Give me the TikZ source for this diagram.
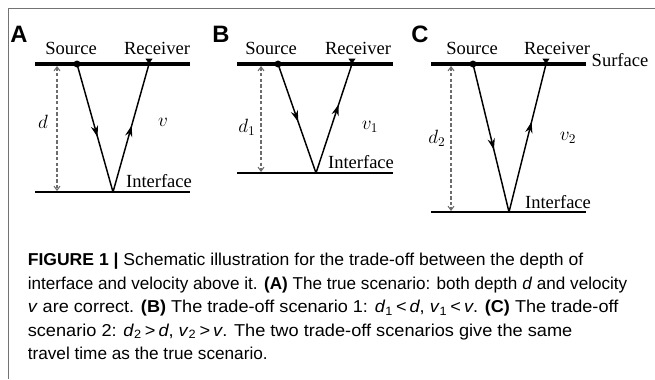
\documentclass[tikz,border=0pt]{standalone}
\usepackage{fontspec}
\usepackage{graphicx}
\setmainfont{Liberation Serif}
\newfontfamily\capfont{Liberation Sans}
\usetikzlibrary{arrows.meta,decorations.markings}
\tikzset{
  surf/.style={line width=2.3pt},
  intf/.style={line width=1.1pt},
  ray/.style={line width=1.1pt},
  depth/.style={draw=gray!85!black, dash pattern=on 2.6pt off 1.6pt, line width=0.8pt,
    {Straight Barb[length=3pt,width=4.5pt]}-{Straight Barb[length=3pt,width=4.5pt]}},
  lbl/.style={font=\fontsize{13.9}{16}\selectfont, inner sep=0pt, anchor=base},
  mlbl/.style={font=\fontsize{14.8}{17}\selectfont, inner sep=0pt},
  panel/.style={font=\capfont\bfseries\fontsize{17.8}{20}\selectfont, inner sep=0pt, anchor=base west},
  captxt/.style={font=\capfont\fontsize{12.9}{15}\selectfont, inner sep=0pt, anchor=base west},
  arrowmid/.style={postaction={decorate}, decoration={markings,
    mark=at position #1 with {\arrow{Stealth[length=8.5pt,width=5.5pt]}}}},
  frame/.style={draw=black!55, line width=1.1pt},
}
\newcommand{\capline}[2]{\resizebox{#1pt}{\height}{#2}}
\begin{document}
\begin{tikzpicture}[x=0.75pt, y=-0.75pt]
\useasboundingbox (0,0) rectangle (655,379);
% frame
\coordinate (fB) at (8.5,379);
\coordinate (fC) at (8.5,8.5);
\coordinate (fR) at (655,8.5);
\draw[frame] (fB) -- (fC) -- (fR);

% ---------- Panel A ----------
\coordinate (aSL) at (35,64); \coordinate (aSR) at (190,64);
\coordinate (aIL) at (35,192); \coordinate (aIR) at (190,192);
\coordinate (aS) at (77,64); \coordinate (aR) at (149,64); \coordinate (aP) at (113,192);
\coordinate (aDt) at (57,66); \coordinate (aDb) at (57,191);
\draw[surf] (aSL) -- (aSR);
\draw[intf] (aIL) -- (aIR);
\draw[ray, arrowmid=0.57] (aS) -- (aP);
\draw[ray, arrowmid=0.52] (aP) -- (aR);
\draw[depth] (aDt) -- (aDb);
\fill (aS) circle[radius=2.6pt];
\fill (aR) ++(-3.6,-5.5) -- ++(7.2,0) -- (aR) -- cycle;
\node[panel] (aLet) at (10,42) {A};
\node[lbl] (aSrc) at (71,54) {Source};
\node[lbl] (aRcv) at (157,54) {Receiver};
\node[lbl] (aInt) at (159,187) {Interface};
\node[mlbl] (aD) at (43,122) {$d$};
\node[mlbl] (aV) at (163,122) {$v$};

% ---------- Panel B ----------
\coordinate (bSL) at (237,64); \coordinate (bSR) at (393,64);
\coordinate (bIL) at (237,173); \coordinate (bIR) at (393,173);
\coordinate (bS) at (278,64); \coordinate (bR) at (352,64); \coordinate (bP) at (316,173);
\coordinate (bDt) at (261,66); \coordinate (bDb) at (261,172);
\draw[surf] (bSL) -- (bSR);
\draw[intf] (bIL) -- (bIR);
\draw[ray, arrowmid=0.53] (bS) -- (bP);
\draw[ray, arrowmid=0.63] (bP) -- (bR);
\draw[depth] (bDt) -- (bDb);
\fill (bS) circle[radius=2.6pt];
\fill (bR) ++(-3.6,-5.5) -- ++(7.2,0) -- (bR) -- cycle;
\node[panel] (bLet) at (212,42) {B};
\node[lbl] (bSrc) at (271,54) {Source};
\node[lbl] (bRcv) at (358,54) {Receiver};
\node[lbl] (bInt) at (361,168) {Interface};
\node[mlbl] (bD) at (247,127) {$d_1$};
\node[mlbl] (bV) at (370,127) {$v_1$};

% ---------- Panel C ----------
\coordinate (cSL) at (431,64); \coordinate (cSR) at (586,64);
\coordinate (cIL) at (431,212); \coordinate (cIR) at (586,212);
\coordinate (cS) at (473,64); \coordinate (cR) at (546,64); \coordinate (cP) at (509,212);
\coordinate (cDt) at (451,66); \coordinate (cDb) at (451,211);
\draw[surf] (cSL) -- (cSR);
\draw[intf] (cIL) -- (cIR);
\draw[ray, arrowmid=0.58] (cS) -- (cP);
\draw[ray, arrowmid=0.61] (cP) -- (cR);
\draw[depth] (cDt) -- (cDb);
\fill (cS) circle[radius=2.6pt];
\fill (cR) ++(-3.6,-5.5) -- ++(7.2,0) -- (cR) -- cycle;
\node[panel] (cLet) at (411,42) {C};
\node[lbl] (cSrc) at (472,54) {Source};
\node[lbl] (cRcv) at (557,54) {Receiver};
\node[lbl] (cSurf) at (620,66) {Surface};
\node[lbl] (cInt) at (558,208) {Interface};
\node[mlbl] (cD) at (437,138) {$d_2$};
\node[mlbl] (cV) at (568,138) {$v_2$};

% ---------- Caption ----------
\node[captxt] (l1) at (27.5,265.5) {\capline{416.6}{\textbf{FIGURE 1 |} Schematic illustration for the trade-off between the depth of}};
\node[captxt] (l2) at (27.5,289) {\capline{449.6}{interface and velocity above it. \textbf{(A)} The true scenario: both depth \textit{d} and velocity}};
\node[captxt] (l3) at (27.5,312.5) {\capline{442.9}{\textit{v} are correct. \textbf{(B)} The trade-off scenario 1: \textit{d}\textsubscript{1}\,<\,\textit{d}, \textit{v}\textsubscript{1}\,<\,\textit{v}. \textbf{(C)} The trade-off}};
\node[captxt] (l4) at (27.5,336) {\capline{408.4}{scenario 2: \textit{d}\textsubscript{2}\,>\,\textit{d}, \textit{v}\textsubscript{2}\,>\,\textit{v}. The two trade-off scenarios give the same}};
\node[captxt] (l5) at (27.5,359.5) {travel time as the true scenario.};
\end{tikzpicture}
\end{document}
